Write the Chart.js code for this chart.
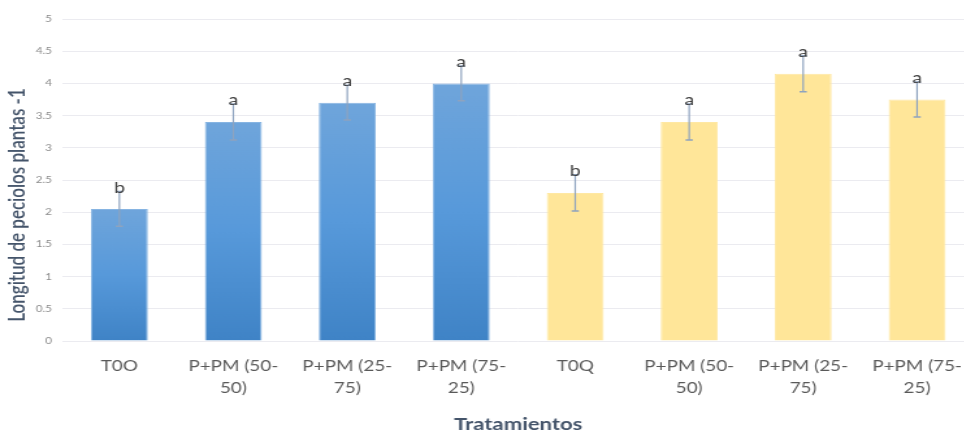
<!DOCTYPE html>
<html>
<head>
<meta charset="utf-8">
<script src="https://cdn.jsdelivr.net/npm/chart.js@4/dist/chart.umd.min.js"></script>
<style>
  html, body { margin: 0; padding: 0; background: #ffffff; overflow: hidden; }
  /* the chart is laid out narrow and widened horizontally */
  #wrap { width: 754px; height: 432px; transform: scaleX(1.3); transform-origin: 0 0; }
</style>
</head>
<body>
<div id="wrap"><canvas id="c" width="754" height="432"></canvas></div>
<script>
// Treatments (two-line tick labels as wrapped in the category axis)
const categories = [
  ['T0O'], ['P+PM (50-', '50)'], ['P+PM (25-', '75)'], ['P+PM (75-', '25)'],
  ['T0Q'], ['P+PM (50-', '50)'], ['P+PM (25-', '75)'], ['P+PM (75-', '25)']
];
// Mean petiole length per treatment
const values = [2.05, 3.40, 3.70, 4.00, 2.30, 3.40, 4.15, 3.75];
// Standard error (symmetric)
const errors = [0.27, 0.28, 0.27, 0.27, 0.28, 0.28, 0.28, 0.27];
// Significance letters
const letters = ['b', 'a', 'a', 'a', 'b', 'a', 'a', 'a'];
// Group of each bar: 0 = blue group (T0O...), 1 = yellow group (T0Q...)
const groups = [0, 0, 0, 0, 1, 1, 1, 1];
const yTicks = [0, 0.5, 1, 1.5, 2, 2.5, 3, 3.5, 4, 4.5, 5];
const yTitle = 'Longitud de peciolos plantas -1';
const xTitle = 'Tratamientos';

const FONT = 'Lato, "Open Sans", "Noto Sans", sans-serif';

function barFill(ctx) {
  const chart = ctx.chart;
  const i = ctx.dataIndex;
  if (groups[i] === 1) return '#ffe699';
  const ys = chart.scales.y;
  if (!ys || !chart.chartArea) return '#5b9bd5';
  const top = ys.getPixelForValue(values[i]);
  const bottom = ys.getPixelForValue(0);
  if (!isFinite(top) || !isFinite(bottom)) return '#5b9bd5';
  const g = chart.ctx.createLinearGradient(0, top, 0, bottom);
  g.addColorStop(0, '#6fa5db');
  g.addColorStop(0.5, '#5799da');
  g.addColorStop(1, '#3f83c6');
  return g;
}

// Error bars and significance letters, positioned through the chart scales
const errorBarPlugin = {
  id: 'errorBars',
  afterDatasetsDraw(chart) {
    const { ctx } = chart;
    const ys = chart.scales.y;
    const meta = chart.getDatasetMeta(0);
    ctx.save();
    meta.data.forEach((bar, i) => {
      const x = bar.x;
      const yHi = ys.getPixelForValue(values[i] + errors[i]);
      const yLo = ys.getPixelForValue(values[i] - errors[i]);
      ctx.strokeStyle = '#8ea3bf';
      ctx.lineWidth = 1.2;
      ctx.beginPath();
      ctx.moveTo(x, yHi); ctx.lineTo(x, yLo);
      ctx.stroke();
      ctx.lineWidth = 1.5;
      ctx.beginPath();
      ctx.moveTo(x - 2.8, yHi); ctx.lineTo(x + 2.8, yHi);
      ctx.moveTo(x - 2.8, yLo); ctx.lineTo(x + 2.8, yLo);
      ctx.stroke();
      ctx.fillStyle = '#404040';
      ctx.font = '15px ' + FONT;
      ctx.textAlign = 'center';
      ctx.textBaseline = 'alphabetic';
      ctx.fillText(letters[i], x, yHi + 1);
    });
    ctx.restore();
  }
};

// Vertical axis title, set slightly below the middle of the value axis
const yTitlePlugin = {
  id: 'yTitle',
  afterDraw(chart) {
    const { ctx } = chart;
    ctx.save();
    ctx.translate(14, 205);
    ctx.rotate(-Math.PI / 2);
    ctx.fillStyle = '#44546a';
    ctx.font = '600 17px ' + FONT;
    ctx.textAlign = 'center';
    ctx.textBaseline = 'middle';
    ctx.fillText(yTitle, 0, 0);
    ctx.restore();
  }
};

new Chart(document.getElementById('c'), {
  type: 'bar',
  data: {
    labels: categories,
    datasets: [{
      data: values,
      backgroundColor: barFill,
      borderColor: (ctx) => groups[ctx.dataIndex] === 1 ? '#ffe8a3' : '#86b4e2',
      borderWidth: 1,
      categoryPercentage: 1,
      barPercentage: 0.5
    }]
  },
  options: {
    responsive: false,
    animation: false,
    layout: { padding: { top: 19, left: 0, right: 0, bottom: 0 } },
    plugins: { legend: { display: false }, tooltip: { enabled: false } },
    scales: {
      x: {
        grid: { display: false, drawTicks: false },
        border: { display: false },
        ticks: {
          color: '#595959',
          font: { family: FONT, size: 14.5, lineHeight: 1.55 },
          padding: 14,
          maxRotation: 0,
          autoSkip: false
        },
        title: {
          display: true,
          text: xTitle,
          color: '#44546a',
          font: { family: FONT, size: 17, weight: 'bold' },
          padding: { top: 0, bottom: -3 }
        },
        afterFit(scale) { scale.height = 91; }
      },
      y: {
        min: 0,
        max: 5,
        afterBuildTicks(scale) { scale.ticks = yTicks.map(v => ({ value: v })); },
        grid: { color: '#ebebf0', lineWidth: 1, drawTicks: false },
        border: { display: false },
        ticks: {
          color: '#8c8c8c',
          font: { family: FONT, size: 9 },
          padding: 8,
          callback: (v) => String(v)
        },
        afterFit(scale) { scale.width = 48; }
      }
    }
  },
  plugins: [errorBarPlugin, yTitlePlugin]
});
</script>
</body>
</html>
